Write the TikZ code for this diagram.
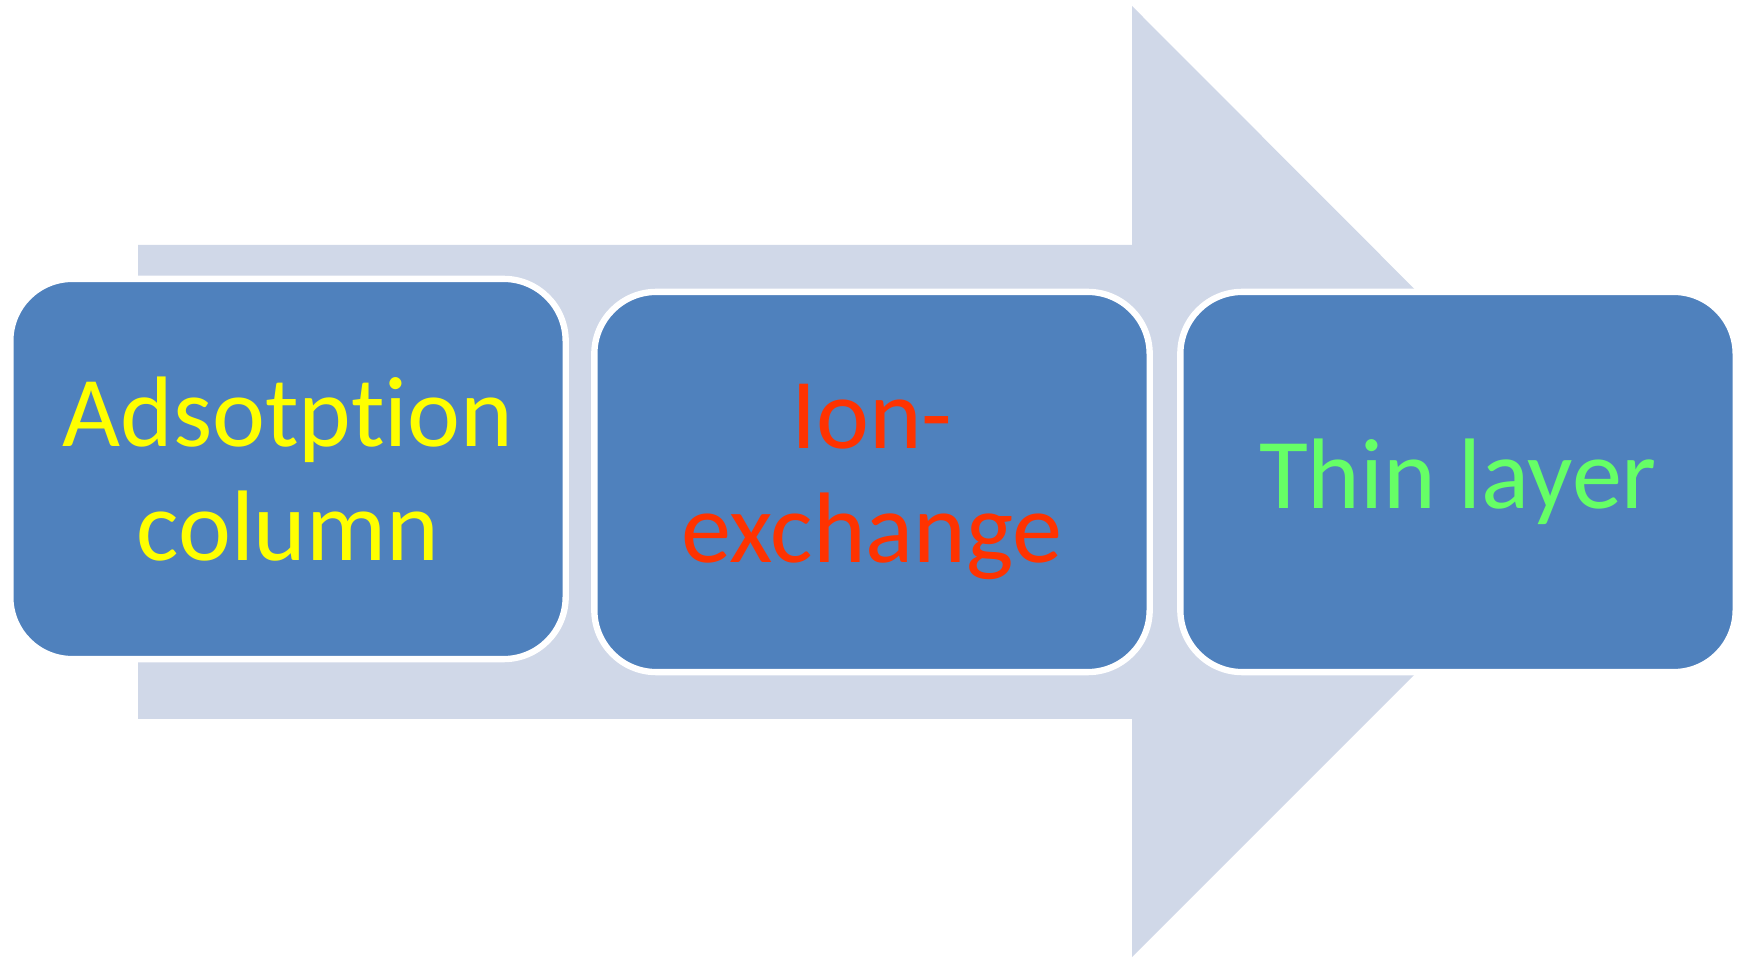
\documentclass[tikz,border=0pt]{standalone}
\usepackage{fontspec}
\setmainfont{Carlito}[Ligatures=NoCommon]
\usepackage{xcolor}
\usetikzlibrary{positioning}

\definecolor{arrowgray}{HTML}{D0D8E8}
\definecolor{boxblue}{HTML}{4F81BD}
\definecolor{txtyellow}{HTML}{FFFF00}
\definecolor{txtred}{HTML}{FF3300}
\definecolor{txtgreen}{HTML}{66FF66}

\tikzset{
  stagebox/.style={rectangle,rounded corners=0.62cm,fill=boxblue,draw=white,
    line width=1.8pt,minimum width=5.55cm,minimum height=3.8cm,inner sep=0pt,
    align=center,font=\fontsize{28.5}{32.5}\selectfont}
}

\begin{document}
\begin{tikzpicture}[x=0.01cm,y=0.01cm]
\useasboundingbox (0,0) rectangle (1745,957);

% Big background arrow
\fill[arrowgray] (138,712) -- (1132,712) -- (1132,951) -- (1607,475)
  -- (1132,0) -- (1132,238) -- (138,238) -- cycle;

% Stages
\node[stagebox,text=txtyellow] (adsorption) at (288,488) {Adsotption\\column};
\node[stagebox,text=txtred] (ionex) at (872,475) {Ion-\\exchange};
\node[stagebox,text=txtgreen] (thin) at (1458,475) {Thin layer};
\end{tikzpicture}
\end{document}
